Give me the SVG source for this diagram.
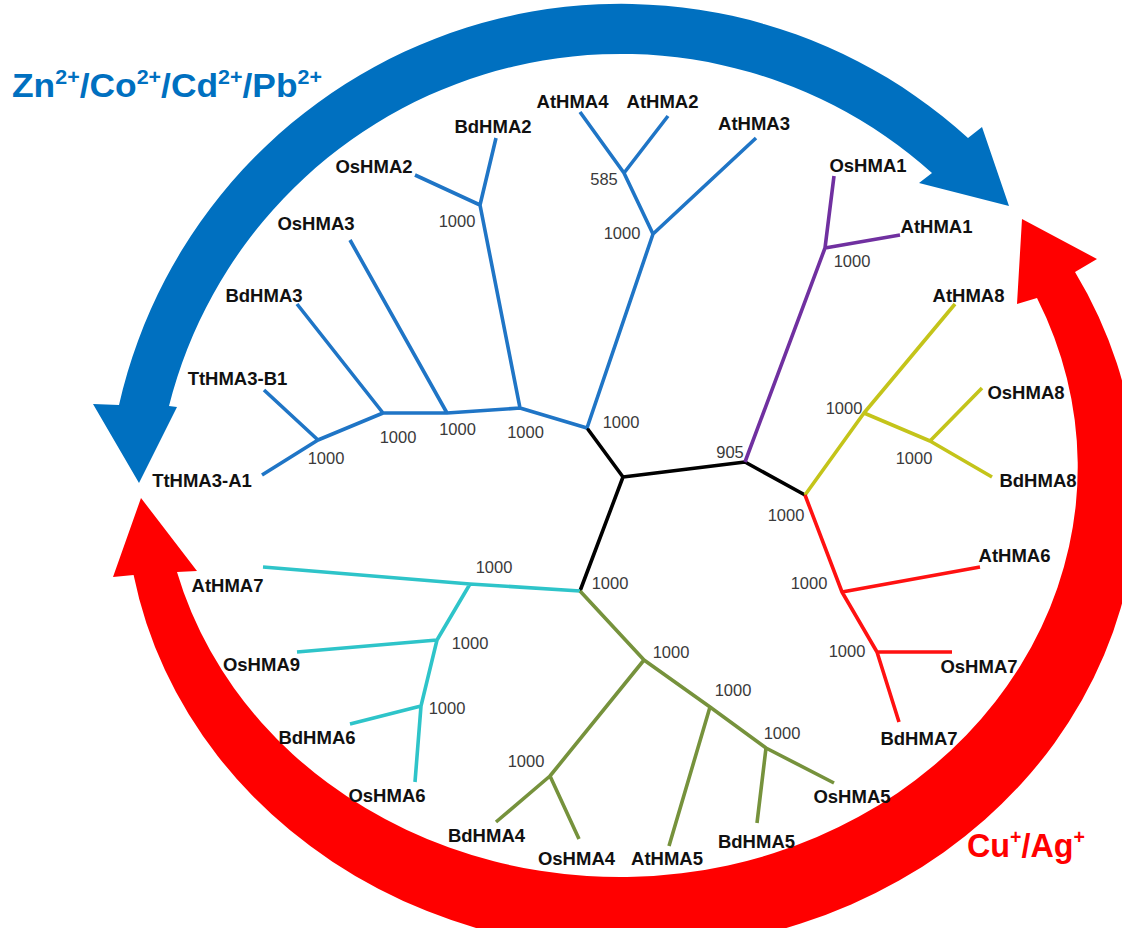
<svg xmlns="http://www.w3.org/2000/svg" width="1122" height="928" viewBox="0 0 1122 928">
<style>
.leaf{font-family:"Liberation Sans",Arial,sans-serif;font-weight:bold;font-size:18.5px;fill:#111;text-anchor:middle}
.bs{font-family:"Liberation Sans",Arial,sans-serif;font-size:16.5px;fill:#3a3a3a;text-anchor:middle}
.ion{font-family:"Liberation Sans",Arial,sans-serif;font-weight:bold;font-size:33px}
.br{fill:none;stroke-width:3.6;stroke-linejoin:round;stroke-linecap:butt}
</style>
<rect width="1122" height="928" fill="#fff"/>
<g id="arrow-blue">
<path fill="#0070C0" d="M 119 405 A 515 515 0 0 1 968 138 L 982 127 L 1009 206 L 919 183 L 932 173 A 466 466 0 0 0 169 406 L 177 407 L 139 483 L 93 404 Z"/>
</g>
<g id="arrow-red">
<path fill="#FF0000" d="M 133.6 575 A 506 458 0 1 0 1075 272 L 1097 259 L 1022 219 L 1017 304 L 1037 298 A 458 410 0 1 1 177 572 L 197 571 L 141 498 L 113 577 Z"/>
</g>
<g id="label-zn">
<text class="ion" fill="#0070C0" x="12" y="97" textLength="310" lengthAdjust="spacingAndGlyphs">Zn<tspan font-size="20" dy="-13">2+</tspan><tspan dy="13">/Co</tspan><tspan font-size="20" dy="-13">2+</tspan><tspan dy="13">/Cd</tspan><tspan font-size="20" dy="-13">2+</tspan><tspan dy="13">/Pb</tspan><tspan font-size="20" dy="-13">2+</tspan></text>
</g>
<g id="label-cu">
<text class="ion" fill="#FF0000" x="967" y="857" textLength="118" lengthAdjust="spacingAndGlyphs">Cu<tspan font-size="20" dy="-13">+</tspan><tspan dy="13">/Ag</tspan><tspan font-size="20" dy="-13">+</tspan></text>
</g>
<g id="connectors">
<path class="br" stroke="#000" d="M 587 428 L 623 477 L 745 462 L 805 495 M 623 477 L 580 591"/>
<path class="br" stroke="#1f75c6" d="M 587 428 L 520 408 L 447 413 L 383 413 L 318 440 L 262 475 M 318 440 L 264 390 M 383 413 L 297 304 M 447 413 L 350 240 M 520 408 L 480 205 L 496 138 M 480 205 L 415 175 M 587 428 L 653 234 L 624 173 L 580 112 M 624 173 L 668 116 M 653 234 L 756 138"/>
<path class="br" stroke="#7030A0" d="M 745 462 L 825 248 L 834 176 M 825 248 L 900 235"/>
<path class="br" stroke="#c4c41a" d="M 805 495 L 864 413 L 955 304 M 864 413 L 930 441 L 982 388 M 930 441 L 992 477"/>
<path class="br" stroke="#ff1111" d="M 805 495 L 842 592 L 980 567 M 842 592 L 877 652 L 952 652 M 877 652 L 899 722"/>
<path class="br" stroke="#2ec4c9" d="M 580 591 L 470 584 L 263 567 M 470 584 L 437 640 L 297 652 M 437 640 L 421 706 L 350 724 M 421 706 L 415 782"/>
<path class="br" stroke="#76923C" d="M 580 591 L 644 660 L 710 707 L 766 748 L 834 783 M 766 748 L 757 823 M 710 707 L 669 846 M 644 660 L 550 776 L 496 822 M 550 776 L 579 839"/>
</g>
<g id="bootstrap">
<text class="bs" x="621" y="428">1000</text>
<text class="bs" x="730" y="458">905</text>
<text class="bs" x="844" y="414">1000</text>
<text class="bs" x="914" y="464">1000</text>
<text class="bs" x="786" y="521">1000</text>
<text class="bs" x="809" y="589">1000</text>
<text class="bs" x="847" y="657">1000</text>
<text class="bs" x="610" y="589">1000</text>
<text class="bs" x="671" y="658">1000</text>
<text class="bs" x="733" y="696">1000</text>
<text class="bs" x="782" y="739">1000</text>
<text class="bs" x="526" y="767">1000</text>
<text class="bs" x="494" y="573">1000</text>
<text class="bs" x="470" y="649">1000</text>
<text class="bs" x="447" y="714">1000</text>
<text class="bs" x="398" y="443">1000</text>
<text class="bs" x="457.5" y="435">1000</text>
<text class="bs" x="525.5" y="438">1000</text>
<text class="bs" x="326" y="464">1000</text>
<text class="bs" x="457" y="227">1000</text>
<text class="bs" x="604" y="185">585</text>
<text class="bs" x="622" y="239">1000</text>
<text class="bs" x="852" y="267">1000</text>
</g>
<g id="AtHMA4"><text class="leaf" x="572.5" y="108">AtHMA4</text></g>
<g id="AtHMA2"><text class="leaf" x="662.5" y="108">AtHMA2</text></g>
<g id="AtHMA3"><text class="leaf" x="754" y="129.5">AtHMA3</text></g>
<g id="BdHMA2"><text class="leaf" x="493" y="132.5">BdHMA2</text></g>
<g id="OsHMA2"><text class="leaf" x="374" y="172.5">OsHMA2</text></g>
<g id="OsHMA3"><text class="leaf" x="316" y="229.5">OsHMA3</text></g>
<g id="BdHMA3"><text class="leaf" x="264" y="301.5">BdHMA3</text></g>
<g id="TtHMA3-B1"><text class="leaf" x="237.5" y="384.5">TtHMA3-B1</text></g>
<g id="TtHMA3-A1"><text class="leaf" x="202" y="486.5">TtHMA3-A1</text></g>
<g id="OsHMA1"><text class="leaf" x="868" y="171.5">OsHMA1</text></g>
<g id="AtHMA1"><text class="leaf" x="936.5" y="232.5">AtHMA1</text></g>
<g id="AtHMA8"><text class="leaf" x="968.5" y="301.5">AtHMA8</text></g>
<g id="OsHMA8"><text class="leaf" x="1026" y="398.5">OsHMA8</text></g>
<g id="BdHMA8"><text class="leaf" x="1038" y="486.5">BdHMA8</text></g>
<g id="AtHMA6"><text class="leaf" x="1014.5" y="561.5">AtHMA6</text></g>
<g id="OsHMA7"><text class="leaf" x="979" y="672.5">OsHMA7</text></g>
<g id="BdHMA7"><text class="leaf" x="919" y="744.5">BdHMA7</text></g>
<g id="OsHMA5"><text class="leaf" x="852" y="802.5">OsHMA5</text></g>
<g id="BdHMA5"><text class="leaf" x="756.5" y="847.5">BdHMA5</text></g>
<g id="AtHMA5"><text class="leaf" x="667" y="864.5">AtHMA5</text></g>
<g id="OsHMA4"><text class="leaf" x="576.5" y="864.5">OsHMA4</text></g>
<g id="BdHMA4"><text class="leaf" x="486.5" y="841.5">BdHMA4</text></g>
<g id="OsHMA6"><text class="leaf" x="387" y="801.5">OsHMA6</text></g>
<g id="BdHMA6"><text class="leaf" x="317" y="743.5">BdHMA6</text></g>
<g id="OsHMA9"><text class="leaf" x="261.5" y="670.5">OsHMA9</text></g>
<g id="AtHMA7"><text class="leaf" x="227.5" y="591.5">AtHMA7</text></g>
</svg>
